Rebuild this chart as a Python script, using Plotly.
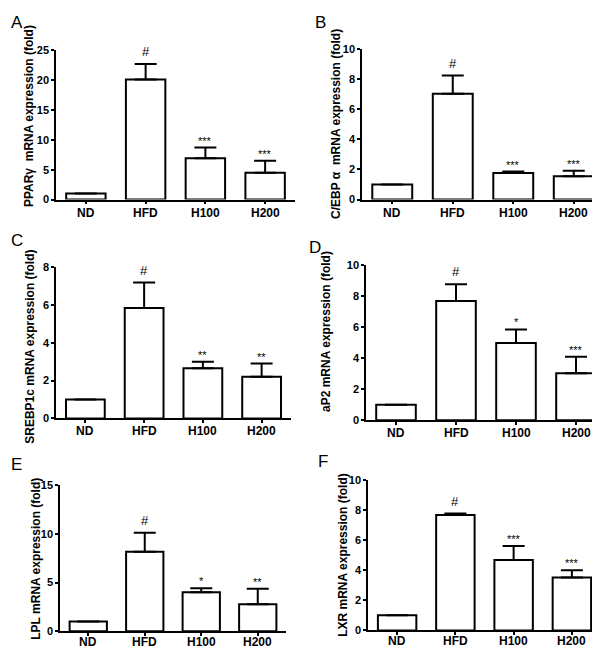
import plotly.graph_objects as go

W, H = 600, 649

groups = ["ND", "HFD", "H100", "H200"]

# mean fold values and upper error for each panel
pparg_mean = [1.0, 20.1, 6.9, 4.5]
pparg_err = [0, 2.6, 1.8, 2.0]
cebpa_mean = [1.0, 7.05, 1.76, 1.54]
cebpa_err = [0, 1.2, 0.1, 0.37]
srebp_mean = [1.0, 5.84, 2.65, 2.2]
srebp_err = [0, 1.35, 0.35, 0.7]
ap2_mean = [1.0, 7.7, 4.98, 3.03]
ap2_err = [0, 1.08, 0.88, 1.07]
lpl_mean = [1.0, 8.17, 4.0, 2.77]
lpl_err = [0, 1.95, 0.43, 1.6]
lxr_mean = [1.0, 7.69, 4.69, 3.52]
lxr_err = [0, 0.09, 0.93, 0.48]

pparg_sig = ["", "#", "***", "***"]
cebpa_sig = ["", "#", "***", "***"]
srebp_sig = ["", "#", "**", "**"]
ap2_sig = ["", "#", "*", "***"]
lpl_sig = ["", "#", "*", "**"]
lxr_sig = ["", "#", "***", "***"]

panels = [
    # letter, ytitle, mean, err, sig, ymax, dtick, px box (x0, x1, y_zero, y_top), letter pos, title pos
    ("A", "PPARγ  mRNA expression (fold)", pparg_mean, pparg_err, pparg_sig, 25, 5,
     (48, 287, 189, 37), (9, 9), (21, 104)),
    ("B", "C/EBP α  mRNA expression (fold)", cebpa_mean, cebpa_err, cebpa_sig, 10, 2,
     (354, 596, 189, 36), (313, 9), (328, 112)),
    ("C", "SREBP1c mRNA expression (fold)", srebp_mean, srebp_err, srebp_sig, 8, 2,
     (48, 283, 412, 258), (9, 231), (22, 339)),
    ("D", "aP2 mRNA expression (fold)", ap2_mean, ap2_err, ap2_sig, 10, 2,
     (358, 598, 414, 256), (307, 238), (318, 324)),
    ("E", "LPL mRNA expression (fold)", lpl_mean, lpl_err, lpl_sig, 15, 5,
     (52, 278, 629, 480), (8, 459), (28, 555)),
    ("F", "LXR mRNA expression (fold)", lxr_mean, lxr_err, lxr_sig, 10, 2,
     (360, 593, 628, 475), (315, 456), (335, 551)),
]

FONT = "Liberation Sans, Arial, sans-serif"

fig = go.Figure()
annotations = []

for i, (letter, ytitle, mean, err, sig, ymax, dtick, box, lpos, tpos) in enumerate(panels):
    n = "" if i == 0 else str(i + 1)
    x0, x1, yz, yt = box
    xa, ya = "x" + n, "y" + n
    bottom_row = i >= 4

    fig.add_trace(go.Bar(
        x=groups, y=mean, xaxis=xa, yaxis=ya, width=0.66,
        marker=dict(color="white", line=dict(color="black", width=2)),
        error_y=dict(type="data", symmetric=False, array=err, arrayminus=[0] * len(err),
                     color="black", thickness=2, width=11),
        showlegend=False, hoverinfo="skip",
    ))

    fig.layout["xaxis" + n] = dict(
        domain=[x0 / W, x1 / W], anchor=ya, range=[-0.5, 3.5],
        showline=True, linecolor="black", linewidth=1.5,
        ticks="outside", ticklen=3, tickwidth=1.5, tickcolor="black",
        showticklabels=False,
        showgrid=False, zeroline=False, fixedrange=True,
    )
    fig.layout["yaxis" + n] = dict(
        domain=[1 - yz / H, 1 - yt / H], anchor=xa, range=[0, ymax],
        tickmode="linear", tick0=0, dtick=dtick,
        showline=True, linecolor="black", linewidth=1.5,
        ticks="outside", ticklen=3, tickwidth=1.5, tickcolor="black",
        tickfont=dict(family=FONT, size=11, color="black", weight="bold"),
        showgrid=False, zeroline=False, fixedrange=True,
    )

    # group labels just under the x axis
    for g in groups:
        annotations.append(dict(
            x=g, y=1 - yz / H, xref=xa, yref="paper", text=g, showarrow=False,
            yanchor="middle", yshift=-11 if bottom_row else -13,
            font=dict(family=FONT, size=12, color="black", weight="bold"),
        ))

    for g, m, e, s in zip(groups, mean, err, sig):
        if not s:
            continue
        is_hash = s == "#"
        annotations.append(dict(
            x=g, y=m + e, xref=xa, yref=ya, text=s, showarrow=False,
            yanchor="bottom", yshift=3 if is_hash else -1,
            font=dict(family=FONT, size=13 if is_hash else 11, color="black"),
        ))

    annotations.append(dict(
        x=lpos[0] / W, y=1 - lpos[1] / H, xref="paper", yref="paper",
        text=letter, showarrow=False, xanchor="center", yanchor="middle",
        font=dict(family=FONT, size=17, color="black"),
    ))
    annotations.append(dict(
        x=tpos[0] / W, y=1 - tpos[1] / H, xref="paper", yref="paper",
        text=ytitle, showarrow=False, textangle=-90, xanchor="center", yanchor="middle",
        font=dict(family=FONT, size=12, color="black", weight="bold"),
    ))

fig.update_layout(
    width=W, height=H, margin=dict(l=0, r=0, t=0, b=0),
    paper_bgcolor="white", plot_bgcolor="white",
    annotations=annotations,
)

fig.write_html("out.html")
